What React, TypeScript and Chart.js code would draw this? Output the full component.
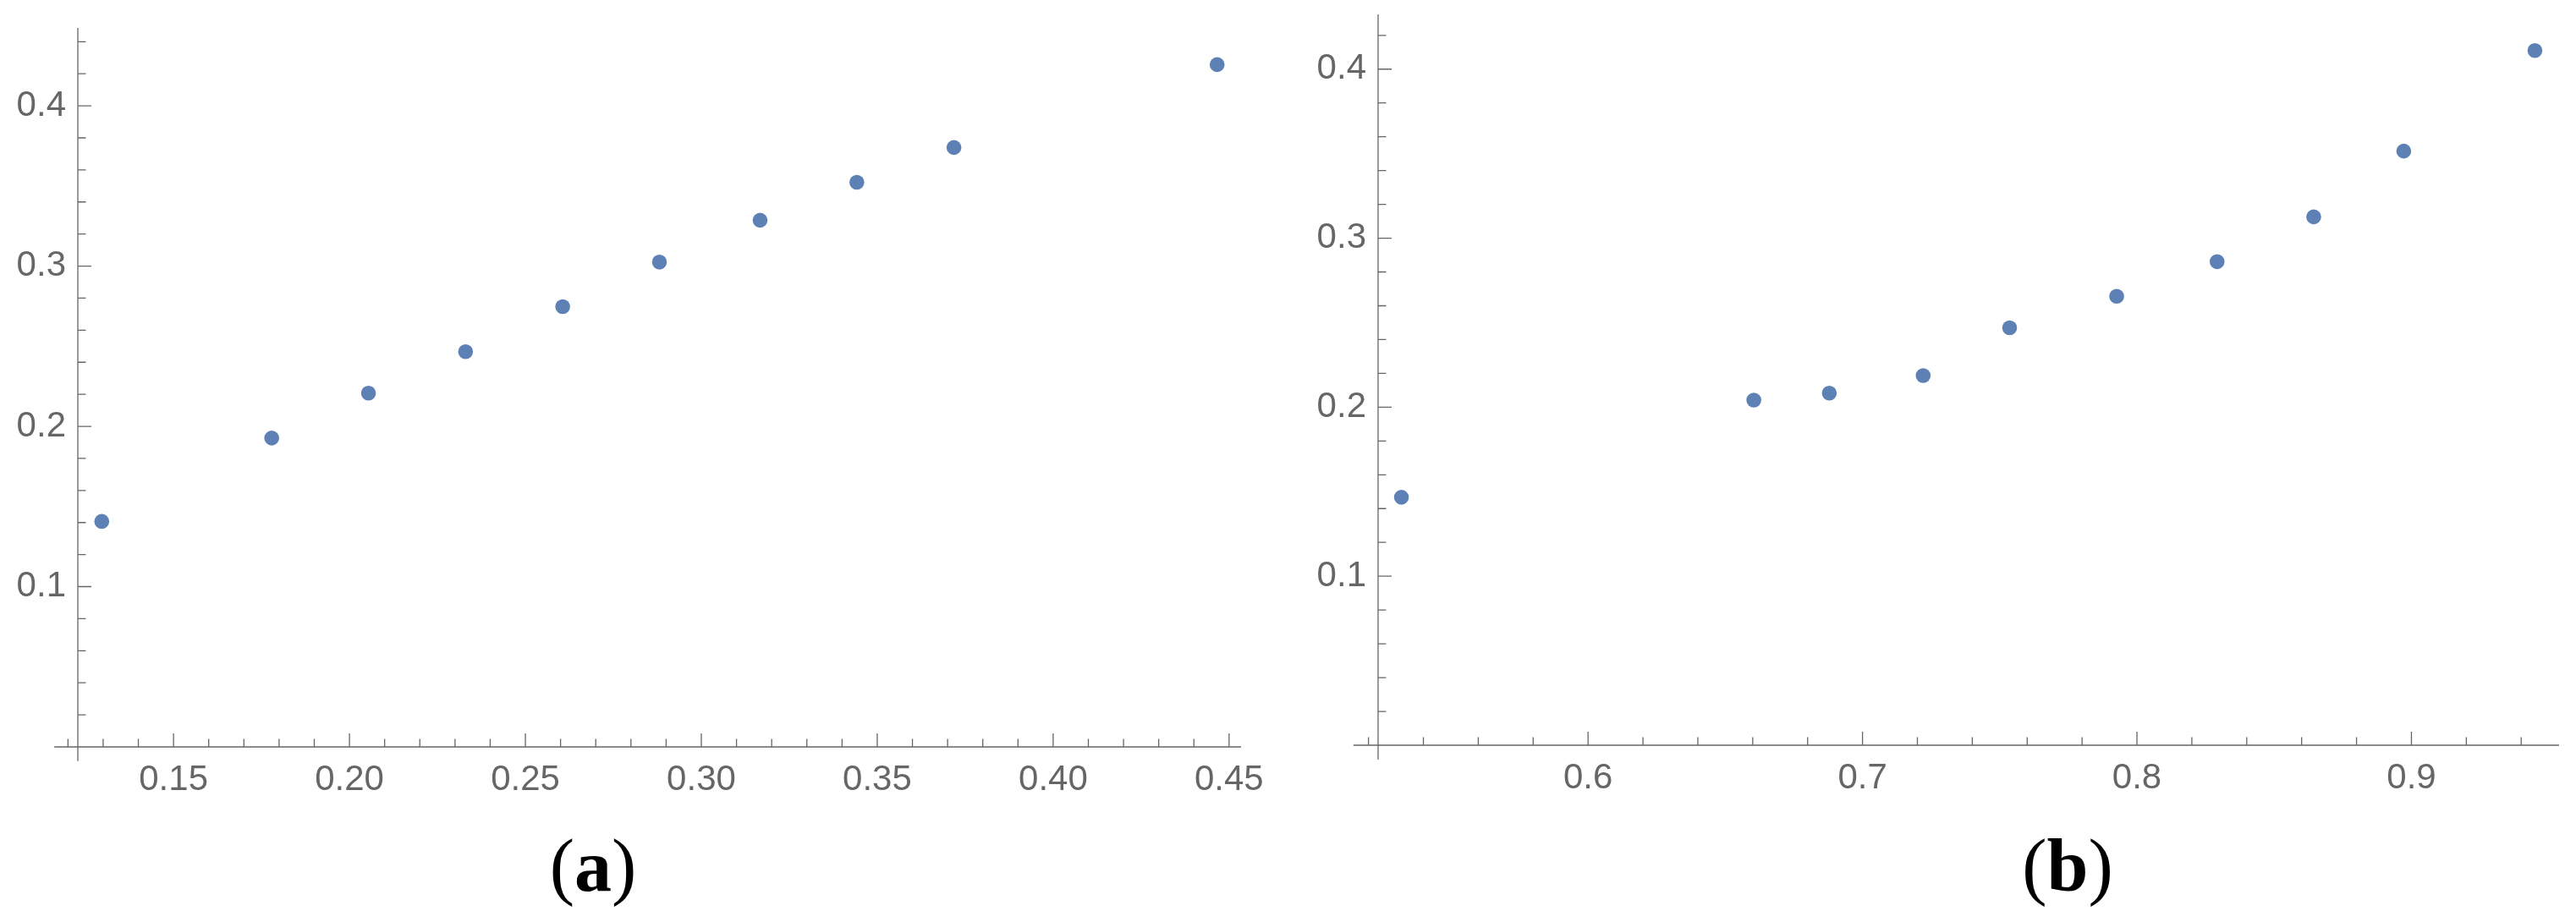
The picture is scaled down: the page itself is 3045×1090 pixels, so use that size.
import React, { useEffect, useRef } from 'react';
import { Chart, registerables } from 'chart.js';

Chart.register(...registerables);

// ---------- Panel (a) data ----------
const pointsAX = [0.1296, 0.1779, 0.2054, 0.233, 0.2606, 0.2881, 0.3167, 0.3442, 0.3718, 0.4466];
const pointsAY = [0.1407, 0.1927, 0.2207, 0.2466, 0.2747, 0.3025, 0.3286, 0.3523, 0.374, 0.4257];

const xMajorA = [0.15, 0.2, 0.25, 0.3, 0.35, 0.4, 0.45];
const xLabelsA = ['0.15', '0.20', '0.25', '0.30', '0.35', '0.40', '0.45'];
const xMinorA = [
  0.12, 0.13, 0.14, 0.16, 0.17, 0.18, 0.19, 0.21, 0.22, 0.23, 0.24, 0.26, 0.27, 0.28, 0.29,
  0.31, 0.32, 0.33, 0.34, 0.36, 0.37, 0.38, 0.39, 0.41, 0.42, 0.43, 0.44,
];
const yMajorA = [0.1, 0.2, 0.3, 0.4];
const yLabelsA = ['0.1', '0.2', '0.3', '0.4'];
const yMinorA = [
  0.02, 0.04, 0.06, 0.08, 0.12, 0.14, 0.16, 0.18, 0.22, 0.24, 0.26, 0.28, 0.32, 0.34, 0.36, 0.38,
  0.42, 0.44,
];
// axis ranges (a)
const xRangeA = [0.1228, 0.4534];
const yRangeA = [0, 0.4486];
const axisStartA = [0.1161, -0.0089];

// ---------- Panel (b) data ----------
const pointsBX = [0.532, 0.6604, 0.6879, 0.7221, 0.7536, 0.7926, 0.8292, 0.8644, 0.8972, 0.945];
const pointsBY = [0.1467, 0.2042, 0.2083, 0.2187, 0.247, 0.2656, 0.2861, 0.3126, 0.3515, 0.411];

const xMajorB = [0.6, 0.7, 0.8, 0.9];
const xLabelsB = ['0.6', '0.7', '0.8', '0.9'];
const xMinorB = [
  0.52, 0.54, 0.56, 0.58, 0.62, 0.64, 0.66, 0.68, 0.72, 0.74, 0.76, 0.78, 0.82, 0.84, 0.86, 0.88,
  0.92, 0.94,
];
const yMajorB = [0.1, 0.2, 0.3, 0.4];
const yLabelsB = ['0.1', '0.2', '0.3', '0.4'];
const yMinorB = [
  0.02, 0.04, 0.06, 0.08, 0.12, 0.14, 0.16, 0.18, 0.22, 0.24, 0.26, 0.28, 0.32, 0.34, 0.36, 0.38,
  0.42,
];
const xRangeB = [0.5235, 0.9538];
const yRangeB = [0, 0.4324];
const axisStartB = [0.5145, -0.0085];

const captions = ['a', 'b'];

// ---------- styles ----------
const AXIS_COLOR = '#666666';
const POINT_COLOR = '#5E81B5';
const TICK_FONT = 'Liberation Sans';

type PanelProps = {
  xs: number[];
  ys: number[];
  xMajor: number[];
  xLabels: string[];
  xMinor: number[];
  yMajor: number[];
  yLabels: string[];
  yMinor: number[];
  xRange: number[];
  yRange: number[];
  axisStart: number[];
  left: number;
  width: number;
  height: number;
  padTop: number;
  padRight: number;
  yAxisWidth: number;
  xAxisHeight: number;
  padBottom: number;
};

function Panel(p: PanelProps) {
  const ref = useRef<HTMLCanvasElement | null>(null);
  useEffect(() => {
    if (!ref.current) return;
    const axesPlugin = {
      id: 'mmaAxes',
      beforeDatasetsDraw(chart: any) {
        const { ctx, chartArea } = chart;
        const sx = chart.scales.x;
        const sy = chart.scales.y;
        const y0 = sy.getPixelForValue(0);
        const x0 = sx.getPixelForValue(p.xRange[0]);
        ctx.save();
        ctx.strokeStyle = AXIS_COLOR;
        ctx.lineWidth = 1.3;
        ctx.beginPath();
        ctx.moveTo(sx.getPixelForValue(p.axisStart[0]), y0);
        ctx.lineTo(chartArea.right, y0);
        ctx.moveTo(x0, sy.getPixelForValue(p.axisStart[1]));
        ctx.lineTo(x0, chartArea.top);
        p.xMajor.forEach((v) => {
          const px = sx.getPixelForValue(v);
          ctx.moveTo(px, y0);
          ctx.lineTo(px, y0 - 16);
        });
        p.xMinor.forEach((v) => {
          const px = sx.getPixelForValue(v);
          ctx.moveTo(px, y0);
          ctx.lineTo(px, y0 - 9.5);
        });
        p.yMajor.forEach((v) => {
          const py = sy.getPixelForValue(v);
          ctx.moveTo(x0, py);
          ctx.lineTo(x0 + 16, py);
        });
        p.yMinor.forEach((v) => {
          const py = sy.getPixelForValue(v);
          ctx.moveTo(x0, py);
          ctx.lineTo(x0 + 9.5, py);
        });
        ctx.stroke();
        ctx.restore();
      },
    };
    const chart = new Chart(ref.current, {
      type: 'scatter',
      data: {
        datasets: [
          {
            data: p.xs.map((x, i) => ({ x, y: p.ys[i] })),
            backgroundColor: POINT_COLOR,
            borderWidth: 0,
            pointRadius: 8.8,
            pointHoverRadius: 8.8,
          },
        ],
      },
      options: {
        responsive: false,
        animation: false,
        devicePixelRatio: 1,
        layout: {
          padding: { left: 0, top: p.padTop, right: p.padRight, bottom: p.padBottom },
        },
        plugins: {
          legend: { display: false },
          tooltip: { enabled: false },
        },
        scales: {
          x: {
            type: 'linear',
            position: 'bottom',
            min: p.xRange[0],
            max: p.xRange[1],
            grid: { display: false, drawTicks: false },
            border: { display: false },
            ticks: {
              font: { family: TICK_FONT, size: 42 },
              color: AXIS_COLOR,
              padding: 14,
              maxRotation: 0,
              minRotation: 0,
              autoSkip: false,
              callback: (_v: any, i: number) => p.xLabels[i],
            },
            afterBuildTicks: (s: any) => {
              s.ticks = p.xMajor.map((v) => ({ value: v }));
            },
            afterFit: (s: any) => {
              s.height = p.xAxisHeight;
              s.paddingLeft = 0;
              s.paddingRight = 0;
            },
          },
          y: {
            type: 'linear',
            position: 'left',
            min: p.yRange[0],
            max: p.yRange[1],
            grid: { display: false, drawTicks: false },
            border: { display: false },
            ticks: {
              font: { family: TICK_FONT, size: 42 },
              color: AXIS_COLOR,
              padding: 14,
              autoSkip: false,
              callback: (_v: any, i: number) => p.yLabels[i],
            },
            afterBuildTicks: (s: any) => {
              s.ticks = p.yMajor.map((v) => ({ value: v }));
            },
            afterFit: (s: any) => {
              s.width = p.yAxisWidth;
              s.paddingTop = 0;
              s.paddingBottom = 0;
            },
          },
        },
      } as any,
      plugins: [axesPlugin],
    });
    return () => chart.destroy();
  }, []);
  return (
    <canvas
      ref={ref}
      width={p.width}
      height={p.height}
      style={{
        position: 'absolute',
        left: p.left,
        top: 0,
        width: p.width,
        height: p.height,
      }}
    />
  );
}

export default function App() {
  useEffect(() => {
    document.body.style.margin = '0';
    document.body.style.overflow = 'hidden';
  }, []);
  const captionStyle = (center: number): React.CSSProperties => ({
    position: 'absolute',
    left: center - 150,
    width: 300,
    top: 980,
    textAlign: 'center',
    fontFamily: '"Liberation Serif", serif',
    fontSize: 88,
    lineHeight: '88px',
    color: '#000',
  });
  return (
    <div
      style={{
        position: 'absolute',
        left: 0,
        top: 0,
        width: 3045,
        height: 1090,
        background: '#fff',
        overflow: 'hidden',
      }}
    >
      <Panel
        xs={pointsAX}
        ys={pointsAY}
        xMajor={xMajorA}
        xLabels={xLabelsA}
        xMinor={xMinorA}
        yMajor={yMajorA}
        yLabels={yLabelsA}
        yMinor={yMinorA}
        xRange={xRangeA}
        yRange={yRangeA}
        axisStart={axisStartA}
        left={0}
        width={1540}
        height={1000}
        padTop={33}
        padRight={73}
        yAxisWidth={92}
        xAxisHeight={80}
        padBottom={37}
      />
      <Panel
        xs={pointsBX}
        ys={pointsBY}
        xMajor={xMajorB}
        xLabels={xLabelsB}
        xMinor={xMinorB}
        yMajor={yMajorB}
        yLabels={yLabelsB}
        yMinor={yMinorB}
        xRange={xRangeB}
        yRange={yRangeB}
        axisStart={axisStartB}
        left={1520}
        width={1525}
        height={1000}
        padTop={17}
        padRight={20}
        yAxisWidth={109}
        xAxisHeight={80}
        padBottom={39}
      />
      <div style={captionStyle(701)}>
        (<b>{captions[0]}</b>)
      </div>
      <div style={captionStyle(2444)}>
        (<b>{captions[1]}</b>)
      </div>
    </div>
  );
}
